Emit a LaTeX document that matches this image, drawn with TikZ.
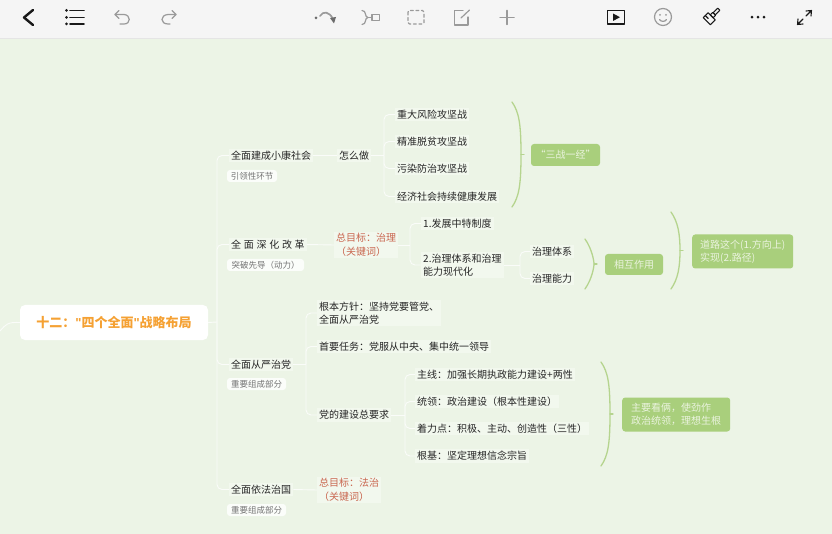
\documentclass[tikz,border=0pt]{standalone}
\usepackage{fontspec}
\setmainfont{Noto Sans CJK SC}
\newfontfamily\spacedFont[LetterSpace=27]{Noto Sans CJK SC}
\newfontfamily\quoteFont{Liberation Sans}
\usepackage{tikz}
\newcommand{\pageWidth}{832}
\newcommand{\pageHeight}{534}
\newcommand{\barHeight}{38}
\newcommand{\trunkX}{217}
\definecolor{canvasGreen}{HTML}{ECF4E6}
\definecolor{leafGreen}{HTML}{F2F8EE}
\definecolor{summaryGreen}{HTML}{A9CF7C}
\definecolor{braceGreen}{HTML}{B5D48E}
\definecolor{titleOrange}{HTML}{F5A133}
\definecolor{goalRed}{HTML}{C9664F}
\definecolor{iconGrey}{HTML}{9A9A9A}
\tikzset{
  topic/.style={anchor=west,inner sep=2pt,fill=leafGreen,text=black!85,font=\fontsize{10}{13.5}\selectfont,align=left},
  goal/.style={topic,text=goalRed},
  tag/.style={rounded corners=3pt,fill=white!70!leafGreen,text=black!55,inner sep=0pt,minimum height=12pt,font=\fontsize{8.5}{10}\selectfont},
  summary/.style={rounded corners=3pt,fill=summaryGreen,text=white!75!summaryGreen,inner sep=0pt,font=\fontsize{10}{13}\selectfont,align=left},
  link/.style={draw=white!75!canvasGreen,line width=0.9pt,rounded corners=5pt},
  brace/.style={draw=braceGreen,line width=1.3pt,line cap=round},
  greyIcon/.style={draw=iconGrey,line width=1.2pt,line cap=round,line join=round},
  blackIcon/.style={draw=black!90,line width=1.3pt,line cap=round,line join=round}
}
% args: x of the curve, top, bottom
\newcommand{\bigBrace}[3]{
  \draw[brace] (#1-9,#2) .. controls (#1-2,#2+10) and (#1,#2+22) .. (#1,{(#2+#3)/2})
    .. controls (#1,#3-22) and (#1-2,#3-10) .. (#1-9,#3);
  \draw[brace] (#1,{(#2+#3)/2}) -- (#1+3,{(#2+#3)/2});
}
\begin{document}
\begin{tikzpicture}[x=1pt,y=-1pt]
\useasboundingbox (0,0) rectangle (\pageWidth,\pageHeight);
\fill[canvasGreen] (0,0) rectangle (\pageWidth,\pageHeight);
\fill[black!4] (0,0) rectangle (\pageWidth,\barHeight);
\draw[black!10,line width=0.5pt] (0,\barHeight) -- (\pageWidth,\barHeight);

% toolbar
\draw[blackIcon,line width=2.4pt] (33,10) -- (24,17.5) -- (33,25);
\foreach \y in {10.5,17.5,24}{
  \fill[black!90] (66.5,\y) circle (1.5);
  \draw[blackIcon,line width=1.6pt] (70,\y) -- (84,\y);
}
\draw[greyIcon] (119,10.5) -- (115,14.5) -- (119,18.5);
\draw[greyIcon] (115,14.5) -- (124,14.5) .. controls (131,15) and (131,24) .. (124,24) -- (120,24);
\draw[greyIcon] (172,10.5) -- (176,14.5) -- (172,18.5);
\draw[greyIcon] (176,14.5) -- (168,14.5) .. controls (160,15) and (160,24) .. (168,24) -- (170,24);
\draw[greyIcon,line width=1.7pt] (320,16) .. controls (323,11) and (329,11) .. (333,19);
\fill[iconGrey!70!black] (316,18) circle (1.5);
\fill[iconGrey!70!black] (330,18) -- (336,17) -- (334,23.5) -- cycle;
\draw[greyIcon] (362,10.5) .. controls (367,10.5) and (364,17) .. (368,17.5) .. controls (364,18) and (367,24.5) .. (362,24.5);
\draw[greyIcon] (368,17.5) -- (372,17.5);
\draw[greyIcon] (372,14.5) rectangle (379.5,20.5);
\draw[greyIcon,dash pattern=on 3pt off 2.5pt,rounded corners=1.5pt] (408,10.5) rectangle (424,24);
\draw[greyIcon] (468,17) -- (468,25) -- (454.5,25) -- (454.5,10.5) -- (463,10.5);
\draw[greyIcon] (461,18) -- (469.5,10);
\draw[greyIcon,line width=1.5pt] (507,10.5) -- (507,24.5) (500,17.5) -- (514,17.5);
\draw[blackIcon] (607.5,10.5) rectangle (624.5,24);
\fill[black!90] (613,13.5) -- (620,17.2) -- (613,21) -- cycle;
\draw[greyIcon] (663,17) circle (8.5);
\fill[iconGrey] (660,14.8) circle (1) (666,14.8) circle (1);
\draw[greyIcon] (659.5,19.5) .. controls (661,22) and (665,22) .. (666.5,19.5);
\begin{scope}[shift={(711,17)},rotate=45]
  \draw[blackIcon,line width=1.1pt] (-6,-5) rectangle (1,5);
  \draw[blackIcon,line width=1.1pt] (1,-2) rectangle (4.5,2);
  \draw[blackIcon,line width=1.1pt] (4.5,-1.5) rectangle (11,1.5);
  \draw[blackIcon,line width=1.1pt] (-3,-5) -- (-3,-1);
\end{scope}
\foreach \x in {752,758,764}{\fill[black!90] (\x,17.2) circle (1.5);}
\draw[blackIcon,line width=1.1pt] (806,11) -- (811.5,10.5) -- (811,16) (811.5,10.5) -- (806,16);
\draw[blackIcon,line width=1.1pt] (798,19) -- (797.5,24.5) -- (803,24) (797.5,24.5) -- (803,19);

% root and first level
\node[rounded corners=5pt,fill=white,text=titleOrange,minimum width=188pt,minimum height=35pt,inner sep=0pt,font=\fontsize{13}{15}\bfseries\selectfont] (root) at (114,322.5) {十二：{\quoteFont "}四个全面{\quoteFont "}战略布局};
\coordinate (rootIn) at (0,331);
\coordinate (trunk) at (\trunkX,322);
\node[topic] (xiaokang) at (229,155.5) {全面建成小康社会};
\node[topic] (shenhua) at (229,244.5) {\spacedFont 全面深化改革};
\node[topic] (congyan) at (229,364.5) {全面从严治党};
\node[topic] (fazhi) at (229,489.5) {全面依法治国};
\node[tag,minimum width=50pt] (xiaokangTag) at (252,176) {引领性环节};
\node[tag,minimum width=77pt] (shenhuaTag) at (265.5,265) {突破先导（动力）};
\node[tag,minimum width=59pt] (congyanTag) at (256.5,384) {重要组成部分};
\node[tag,minimum width=59pt] (fazhiTag) at (256.5,510) {重要组成部分};

\draw[link] (root.west) .. controls (8,322) and (6,324) .. (rootIn);
\draw[link] (root.east) -- (trunk);
\foreach \n in {xiaokang,shenhua,congyan,fazhi}{
  \draw[link] (trunk) |- (\n.west);
}

% first branch
\node[topic] (howTo) at (337,155.5) {怎么做};
\coordinate (howFork) at (384,155.5);
\node[topic] (riskFight) at (395,114.5) {重大风险攻坚战};
\node[topic] (povertyFight) at (395,141.5) {精准脱贫攻坚战};
\node[topic] (pollutionFight) at (395,168.5) {污染防治攻坚战};
\node[topic] (economyGrow) at (395,196.5) {经济社会持续健康发展};
\draw[link] (xiaokang.east) -- (howTo.west);
\draw[link] (howTo.east) -- (howFork);
\foreach \n in {riskFight,povertyFight,pollutionFight,economyGrow}{
  \draw[link] (howFork) |- (\n.west);
}
\bigBrace{521}{102}{207}
\node[summary,minimum width=69pt,minimum height=22pt,align=center] (threeOne) at (565.5,155) {“三战一经”};

% second branch
\node[goal] (goalGovern) at (334,245) {总目标：治理\\（关键词）};
\coordinate (governFork) at (410,245);
\node[topic] (systemDev) at (421,223.5) {1.发展中特制度};
\node[topic] (systemAbility) at (421,265) {2.治理体系和治理\\能力现代化};
\coordinate (abilityFork) at (520,265);
\node[topic] (governSystem) at (530,251.5) {治理体系};
\node[topic] (governAbility) at (530,278.5) {治理能力};
\draw[link] (shenhua.east) -- (goalGovern.west);
\draw[link] (goalGovern.east) -- (governFork);
\foreach \n in {systemDev,systemAbility}{
  \draw[link] (governFork) |- (\n.west);
}
\draw[link] (systemAbility.east) -- (abilityFork);
\foreach \n in {governSystem,governAbility}{
  \draw[link] (abilityFork) |- (\n.west);
}
\bigBrace{594}{239}{289}
\node[summary,minimum width=58pt,minimum height=21pt,align=center] (mutualAct) at (634,264.5) {相互作用};
\bigBrace{680}{212}{289}
\node[summary,anchor=west,minimum width=101pt,minimum height=34pt,text width=85pt,inner xsep=8pt] (roadBox) at (692,251.5) {道路这个(1.方向上)\\实现(2.路径)};

% third branch
\coordinate (partyFork) at (306,364.5);
\node[topic] (basicPolicy) at (317,313) {根本方针：坚持党要管党、\\全面从严治党};
\node[topic] (firstTask) at (317,346.5) {首要任务：党服从中央、集中统一领导};
\node[topic] (partyBuild) at (317,415) {党的建设总要求};
\coordinate (buildFork) at (405,415);
\node[topic] (mainLine) at (415,374.5) {主线：加强长期执政能力建设+两性};
\node[topic] (leadLine) at (415,401.5) {统领：政治建设（根本性建设）};
\node[topic] (focusLine) at (415,428.5) {着力点：积极、主动、创造性（三性）};
\node[topic] (baseLine) at (415,456) {根基：坚定理想信念宗旨};
\draw[link] (congyan.east) -- (partyFork);
\foreach \n in {basicPolicy,firstTask,partyBuild}{
  \draw[link] (partyFork) |- (\n.west);
}
\draw[link] (partyBuild.east) -- (buildFork);
\foreach \n in {mainLine,leadLine,focusLine,baseLine}{
  \draw[link] (buildFork) |- (\n.west);
}
\bigBrace{610}{362}{466}
\node[summary,anchor=west,minimum width=108pt,minimum height=34pt,text width=90pt,inner xsep=9pt] (mainBox) at (622,414.5) {主要看俩，使劲作\\政治统领，理想生根};

% fourth branch
\node[goal] (goalLaw) at (317,490) {总目标：法治\\（关键词）};
\draw[link] (fazhi.east) -- (goalLaw.west);
\end{tikzpicture}
\end{document}
